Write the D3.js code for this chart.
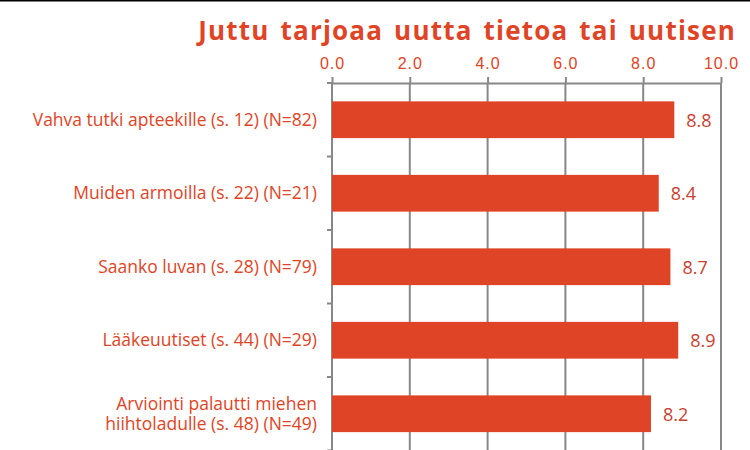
<!DOCTYPE html>
<html><head><meta charset="utf-8">
<script src="https://cdn.jsdelivr.net/npm/d3@7"></script>
<style>body{margin:0;background:#fff}svg{display:block;font-family:"Open Sans",sans-serif}</style>
</head><body><div id="chart"></div>
<script>
const categories = [
  ["Vahva tutki apteekille (s. 12) (N=82)"],
  ["Muiden armoilla (s. 22) (N=21)"],
  ["Saanko luvan (s. 28) (N=79)"],
  ["Lääkeuutiset (s. 44) (N=29)"],
  ["Arviointi palautti miehen", "hiihtoladulle (s. 48) (N=49)"]
];
const values = [8.8, 8.4, 8.7, 8.9, 8.2];
const ticks = [0, 2, 4, 6, 8, 10];

const width = 750, height = 450;
const margin = { top: 83, left: 332, right: 29 };
const red = "#e04426";

const svg = d3.select("#chart").append("svg").attr("width", width).attr("height", height);

svg.append("line").attr("x1", 0).attr("x2", width).attr("y1", 0.5).attr("y2", 0.5)
  .attr("stroke", "#000").attr("stroke-width", 2);

svg.append("text").attr("x", 736).attr("y", 40).attr("text-anchor", "end")
  .style("font-size", "26px").style("font-weight", "bold").style("fill", red)
  .style("letter-spacing", "1.2px").style("word-spacing", "3px")
  .text("Juttu tarjoaa uutta tietoa tai uutisen");

const x = d3.scaleLinear().domain([0, 10]).range([margin.left, width - margin.right]);
const y = d3.scaleBand().domain(d3.range(values.length)).range([margin.top, margin.top + 73.5 * 5])
  .paddingInner(0.5).paddingOuter(0.25);

// gridlines
svg.append("g").selectAll("line").data(ticks).join("line")
  .attr("x1", d => x(d)).attr("x2", d => x(d)).attr("y1", margin.top).attr("y2", height)
  .attr("stroke", "#888").attr("stroke-width", 2);

const xa = svg.append("g").attr("transform", `translate(0,${margin.top})`)
  .call(d3.axisTop(x).tickValues(ticks).tickFormat(d3.format(".1f")).tickSize(6).tickSizeOuter(0).tickPadding(8));
xa.select(".domain").attr("stroke", "#888").attr("stroke-width", 2);
xa.selectAll(".tick line").attr("stroke", "#888").attr("stroke-width", 2);
xa.selectAll("text").style("font-size", "16px").style("letter-spacing", "1px").style("fill", red);

// left category ticks
svg.append("g").selectAll("line").data(d3.range(values.length + 1)).join("line")
  .attr("x1", margin.left - 5).attr("x2", margin.left)
  .attr("y1", d => margin.top + d * y.step()).attr("y2", d => margin.top + d * y.step())
  .attr("stroke", "#888").attr("stroke-width", 2);

svg.append("g").selectAll("rect").data(values).join("rect")
  .attr("x", x(0)).attr("y", (d, i) => y(i)).attr("width", d => x(d) - x(0))
  .attr("height", y.bandwidth()).attr("fill", red);

svg.append("g").selectAll("text").data(values).join("text")
  .attr("x", d => x(d) + 12).attr("y", (d, i) => y(i) + y.bandwidth() / 2 + 7)
  .style("font-size", "18px").style("fill", "#c8412f").text(d => d.toFixed(1));

const lab = svg.append("g").selectAll("text").data(categories).join("text")
  .attr("text-anchor", "end").style("font-size", "17.5px").style("fill", red)
  .attr("y", (d, i) => y(i) + y.bandwidth() / 2 + 6 - (d.length - 1) * 10);
lab.selectAll("tspan").data(d => d).join("tspan")
  .attr("x", 317).attr("dy", (d, i) => i ? 20 : 0).text(d => d);
</script></body></html>
